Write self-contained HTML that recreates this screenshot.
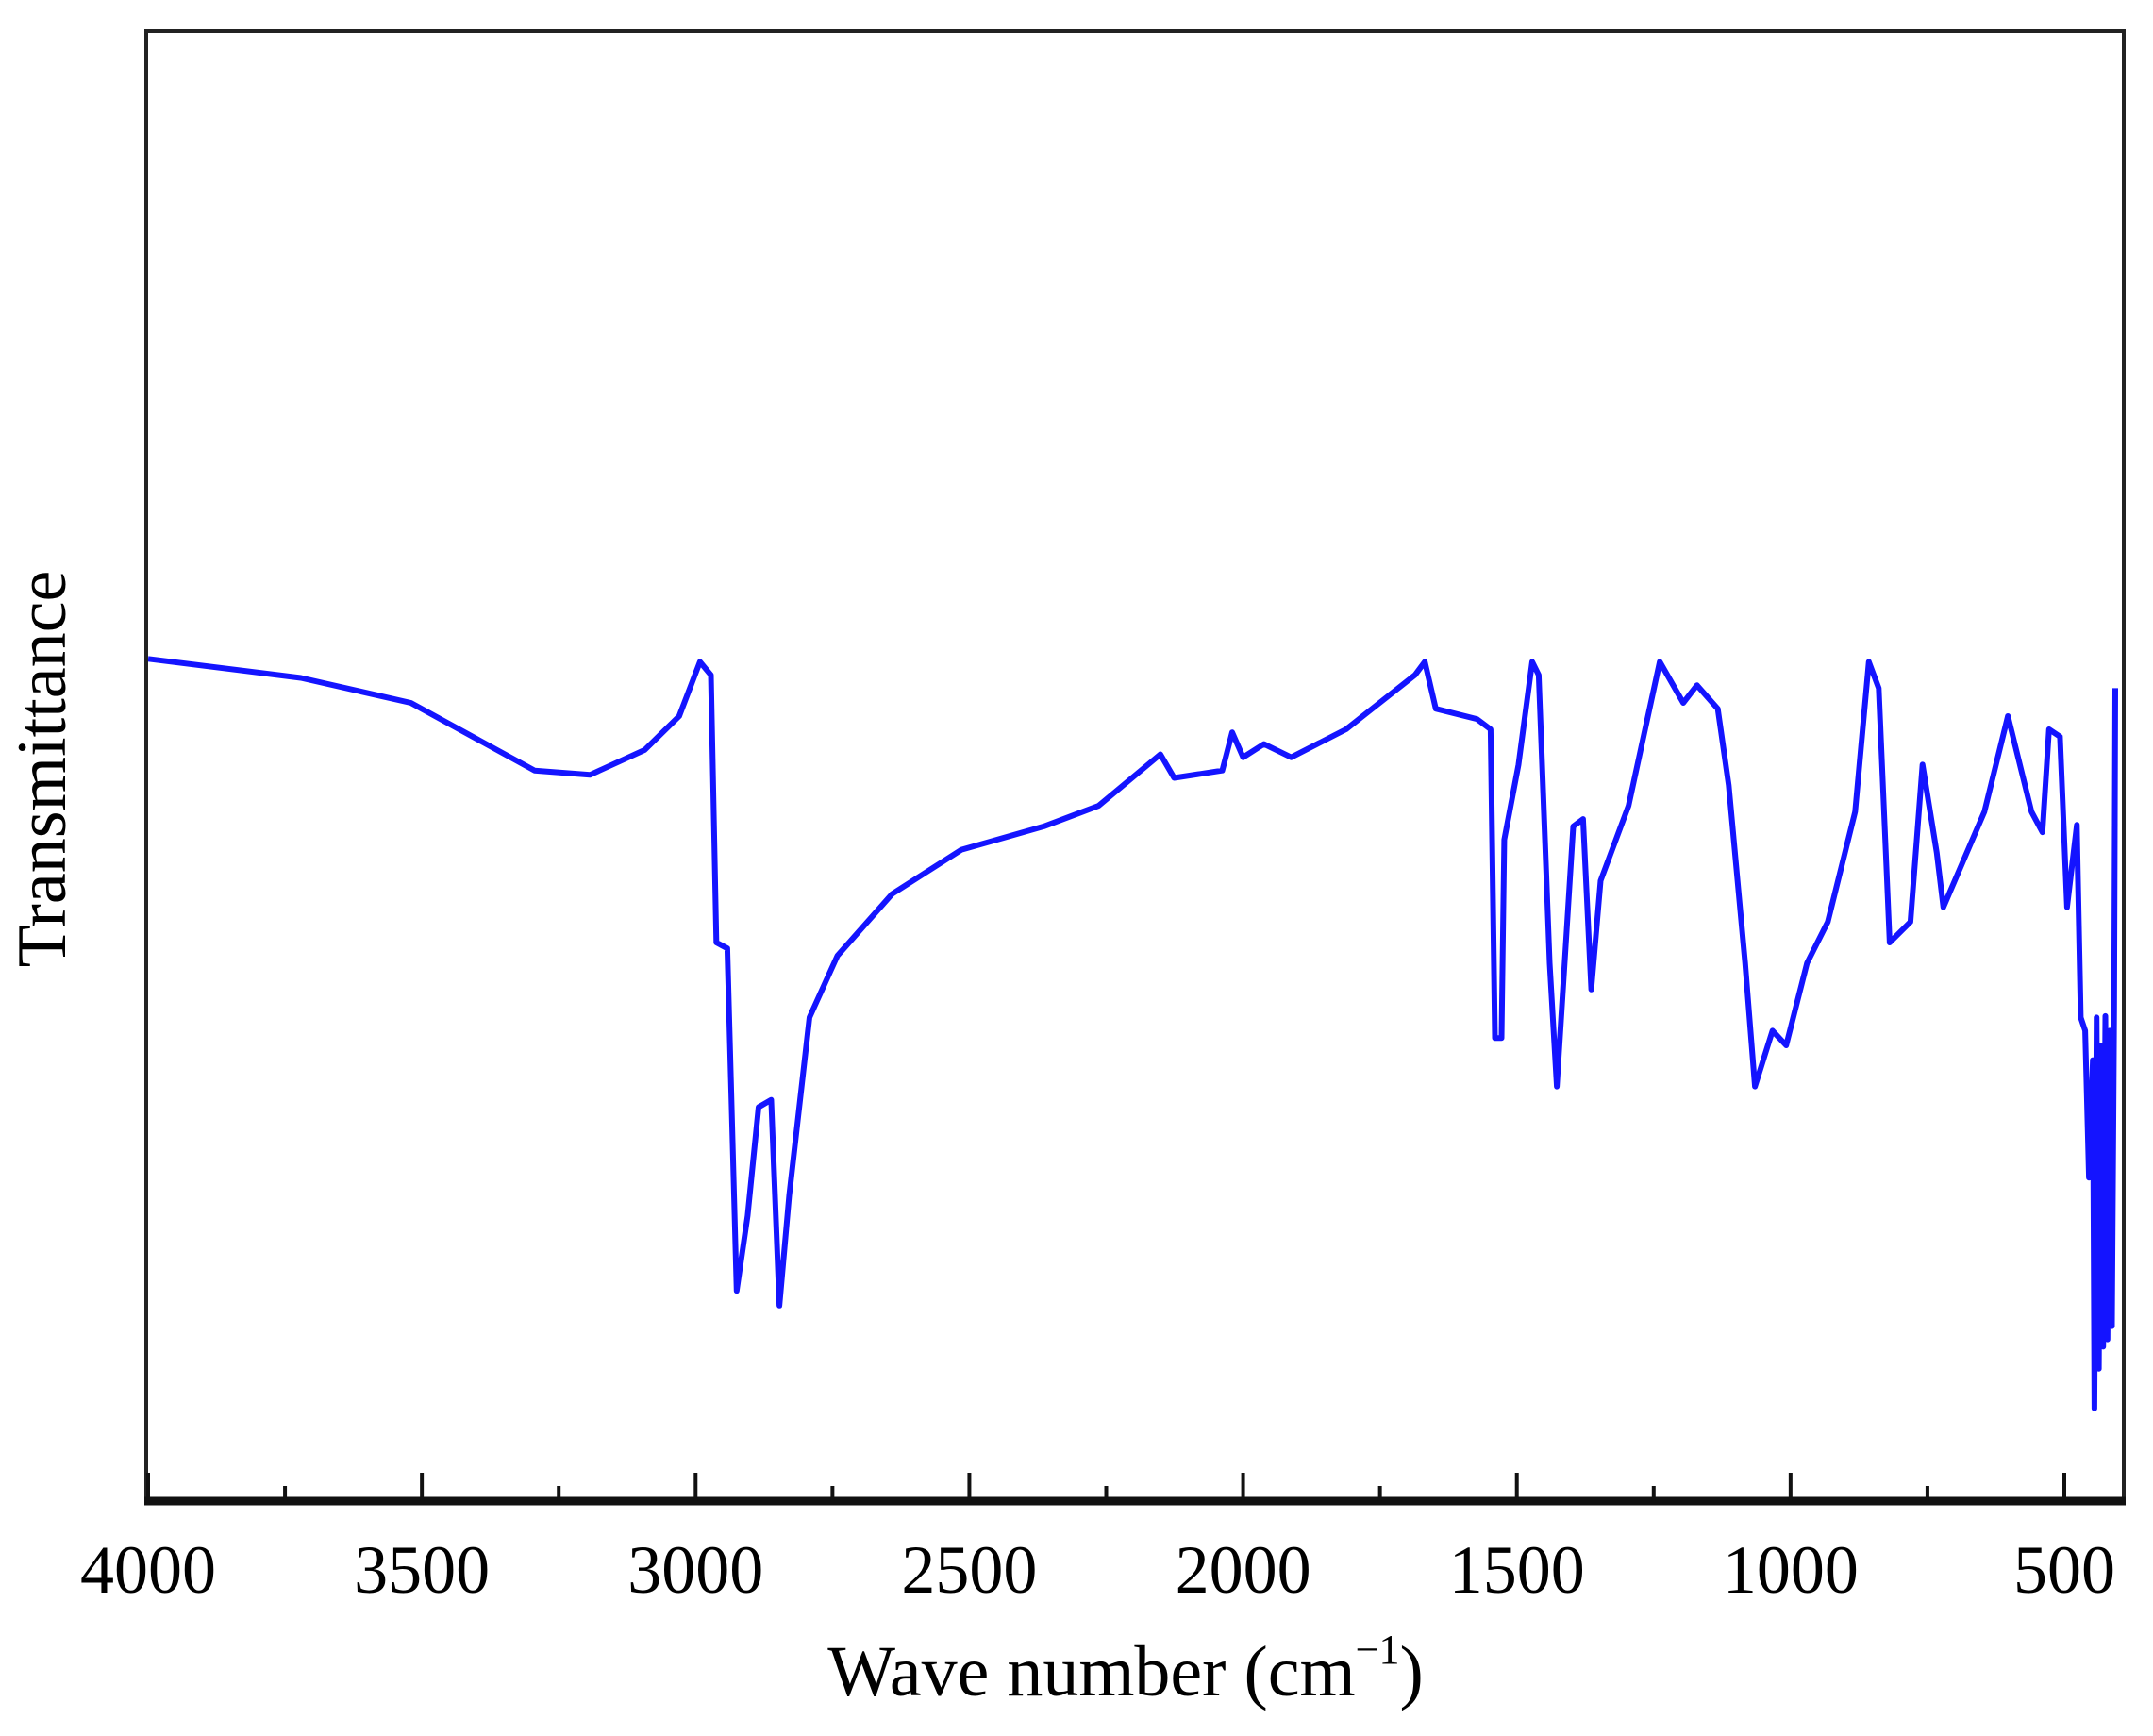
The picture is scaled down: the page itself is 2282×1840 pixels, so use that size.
<!DOCTYPE html>
<html><head><meta charset="utf-8"><style>
html,body{margin:0;padding:0;background:#fff;}
svg{display:block;}
</style></head><body>
<svg id="chart" width="2282" height="1840" xmlns="http://www.w3.org/2000/svg" font-family="'Liberation Serif', serif">
<rect x="0" y="0" width="2282" height="1840" fill="#fff"/>
<g id="plot"></g>
<g id="axes"></g>
<text x="52" y="815" font-size="74" text-anchor="middle" transform="rotate(-90 52 815)" dominant-baseline="middle" fill="#000">Transmittance</text>
<text x="1193" y="1797" font-size="76" text-anchor="middle" fill="#000">Wave number (cm<tspan font-size="44" dy="-34">−1</tspan><tspan dy="34">)</tspan></text>
</svg>
<script>
const wavenumbers = [4000,3721,3520,3294,3193,3093,3030,2992,2972,2962,2942,2925,2905,2885,2862,2847,2829,2792,2741,2641,2515,2364,2264,2151,2126,2038,2020,2000,1962,1912,1812,1686,1668,1648,1573,1548,1540,1528,1523,1497,1472,1460,1440,1427,1397,1379,1364,1347,1296,1239,1196,1171,1133,1113,1083,1065,1033,1008,970,932,882,857,839,819,781,759,733,721,646,603,560,540,528,508,495,477,470,462,455,448,445,441,437,433,429,425,421,417,413,409,407];
const transmittance = [57.3,56.0,54.3,49.7,49.4,51.1,53.4,57.1,56.2,38.0,37.6,14.3,19.4,26.8,27.3,13.3,20.8,32.9,37.1,41.3,44.3,45.9,47.3,50.8,49.2,49.7,52.3,50.6,51.5,50.6,52.5,56.2,57.1,53.9,53.2,52.5,31.5,31.5,45.0,50.1,57.1,56.2,36.6,28.2,45.9,46.4,34.8,42.2,47.3,57.1,54.3,55.5,53.9,48.7,36.6,28.2,32.0,31.0,36.6,39.4,46.9,57.1,55.3,38.0,39.4,50.1,44.1,40.4,46.9,53.4,46.9,45.5,52.5,52.0,40.4,46.0,32.9,32.0,22.0,30.0,6.3,32.9,9.0,31.0,10.5,33.0,11.0,32.0,11.9,33.5,55.3];
const majorTicks = [4000,3500,3000,2500,2000,1500,1000,500];
const tickLabels = ["4000","3500","3000","2500","2000","1500","1000","500"];
const minorTicks = [3750,3250,2750,2250,1750,1250,750];

const NS = "http://www.w3.org/2000/svg";
const L = 155, R = 2251, T0 = 33, B = 1591;
function xScale(w){ return 157 + (4000 - w) * (2188 - 157) / 3500; }
function yScale(t){ return B - t / 100 * (B - T0); }

const plot = document.getElementById('plot');
const axes = document.getElementById('axes');

const line = document.createElementNS(NS,'polyline');


line.setAttribute('points', wavenumbers.map((w,i)=>xScale(w).toFixed(1)+','+yScale(transmittance[i]).toFixed(1)).join(' '));
line.setAttribute('fill','none');
line.setAttribute('stroke','#1414ff');
line.setAttribute('stroke-width','6');
line.setAttribute('stroke-linejoin','round');
plot.appendChild(line);

const frame = document.createElementNS(NS,'path');


frame.setAttribute('d', `M${L},${B} L${L},${T0} L${R},${T0} L${R},${B}`);
frame.setAttribute('fill','none');
frame.setAttribute('stroke','#222');
frame.setAttribute('stroke-width','4');
axes.appendChild(frame);

const xaxis = document.createElementNS(NS,'line');


xaxis.setAttribute('x1', L-2); xaxis.setAttribute('x2', R+2);
xaxis.setAttribute('y1', B); xaxis.setAttribute('y2', B);
xaxis.setAttribute('stroke','#111'); xaxis.setAttribute('stroke-width','9');
axes.appendChild(xaxis);

majorTicks.forEach((w,i)=>{
  const t = document.createElementNS(NS,'line');
  
  
  t.setAttribute('x1', xScale(w)); t.setAttribute('x2', xScale(w));
  t.setAttribute('y1', B); t.setAttribute('y2', B-30);
  t.setAttribute('stroke','#111'); t.setAttribute('stroke-width','4');
  axes.appendChild(t);
  const lb = document.createElementNS(NS,'text');
  
  
  lb.setAttribute('x', xScale(w)); lb.setAttribute('y', 1688);
  lb.setAttribute('font-size','72'); lb.setAttribute('text-anchor','middle');
  lb.textContent = tickLabels[i];
  axes.appendChild(lb);
});
minorTicks.forEach(w=>{
  const t = document.createElementNS(NS,'line');
  
  
  t.setAttribute('x1', xScale(w)); t.setAttribute('x2', xScale(w));
  t.setAttribute('y1', B); t.setAttribute('y2', B-16);
  t.setAttribute('stroke','#111'); t.setAttribute('stroke-width','4');
  axes.appendChild(t);
});
</script>
</body></html>
